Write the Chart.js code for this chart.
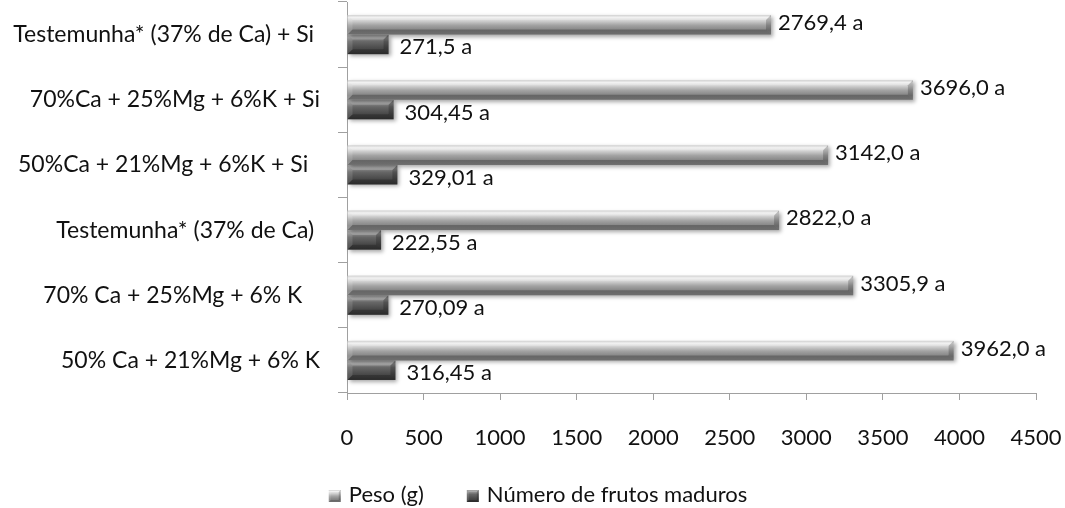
<!DOCTYPE html>
<html>
<head>
<meta charset="utf-8">
<script src="https://cdn.jsdelivr.net/npm/chart.js@4.4.1/dist/chart.umd.min.js"></script>
<style>
  html, body { margin: 0; background: #fff; }
  #wrap { width: 1065px; height: 508px; }
</style>
</head>
<body>
<div id="wrap"><canvas id="grafico"></canvas></div>
<script>
// tratamentos (de cima para baixo), com os espaços finais dos rótulos originais
const tratamentos = [
  'Testemunha* (37% de Ca) + Si ',
  '70%Ca + 25%Mg + 6%K + Si',
  '50%Ca + 21%Mg + 6%K + Si  ',
  'Testemunha* (37% de Ca) ',
  '70% Ca + 25%Mg + 6% K   ',
  '50% Ca + 21%Mg + 6% K'
];
const peso = [2769.4, 3696.0, 3142.0, 2822.0, 3305.9, 3962.0];
const frutosMaduros = [271.5, 304.45, 329.01, 222.55, 270.09, 316.45];
const letras = ['a', 'a', 'a', 'a', 'a', 'a'];
const eixoX = { min: 0, max: 4500, passo: 500 };

const FONTE = 'Lato, "Liberation Sans", sans-serif';
const COR_TEXTO = '#111';
const COR_EIXO = '#a0a0a0';

const paletas = [
  { // Peso (g)
    stops: [[0, '#c4c4c4'], [0.12, '#eeeeee'], [0.3, '#cfcfcf'], [0.52, '#a3a3a3'], [0.78, '#838383'], [1, '#8e8e8e']]
  },
  { // Número de frutos maduros
    stops: [[0, '#858585'], [0.16, '#939393'], [0.36, '#676767'], [0.7, '#4a4a4a'], [1, '#373737']]
  }
];

function formatar(v, ds) {
  const txt = ds === 0 ? v.toFixed(1) : String(v);
  return txt.replace('.', ',');
}

// barra em relevo: gradiente vertical + chanfros nas bordas
function desenhaBarra(ctx, x0, x1, y0, y1, paleta, chanfro, sombra) {
  const h = y1 - y0;
  const b = Math.min(chanfro, h / 3, (x1 - x0) / 2);
  ctx.save();
  const g = ctx.createLinearGradient(0, y0, 0, y1);
  paleta.stops.forEach(s => g.addColorStop(s[0], s[1]));
  if (sombra) {
    ctx.shadowColor = 'rgba(0,0,0,0.35)';
    ctx.shadowBlur = 4;
    ctx.shadowOffsetX = 2;
    ctx.shadowOffsetY = 2;
  }
  ctx.fillStyle = g;
  ctx.fillRect(x0, y0, x1 - x0, h);
  ctx.shadowColor = 'transparent';

  const face = (pts, cor) => {
    ctx.beginPath();
    ctx.moveTo(pts[0][0], pts[0][1]);
    for (let i = 1; i < pts.length; i++) ctx.lineTo(pts[i][0], pts[i][1]);
    ctx.closePath();
    ctx.fillStyle = cor;
    ctx.fill();
  };
  face([[x0, y0], [x1, y0], [x1 - b, y0 + b], [x0 + b, y0 + b]], 'rgba(255,255,255,0.22)');
  face([[x0, y1], [x1, y1], [x1 - b, y1 - b], [x0 + b, y1 - b]], 'rgba(0,0,0,0.22)');
  face([[x1, y0], [x1, y1], [x1 - b, y1 - b], [x1 - b, y0 + b]], 'rgba(0,0,0,0.2)');
  face([[x0, y0], [x0, y1], [x0 + b, y1 - b], [x0 + b, y0 + b]], 'rgba(255,255,255,0.12)');
  ctx.restore();
}

const barras3d = {
  id: 'barras3d',
  beforeDatasetDraw(chart, args) {
    const ctx = chart.ctx;
    const i = args.index;
    const meta = chart.getDatasetMeta(i);
    meta.data.forEach(el => {
      const top = el.y - el.height / 2;
      desenhaBarra(ctx, el.base, el.x, top, top + el.height, paletas[i], 5, true);
    });
    return false;
  },
  afterDatasetsDraw(chart) {
    const ctx = chart.ctx;
    ctx.save();
    ctx.font = '22px ' + FONTE;
    ctx.fillStyle = COR_TEXTO;
    ctx.textAlign = 'left';
    ctx.textBaseline = 'middle';
    chart.data.datasets.forEach((ds, i) => {
      chart.getDatasetMeta(i).data.forEach((el, j) => {
        const txt = formatar(ds.data[j], i) + ' ' + letras[j];
        const dx = i === 0 ? 7 : 11;
        const dy = i === 0 ? -2 : 3;
        ctx.fillText(txt, el.x + dx, el.y + dy);
      });
    });
    ctx.restore();
  },
  afterDraw(chart) {
    // legenda inferior
    const ctx = chart.ctx;
    ctx.save();
    ctx.font = '22px ' + FONTE;
    ctx.fillStyle = COR_TEXTO;
    ctx.textBaseline = 'alphabetic';
    const caixa = 12, gapTexto = 8, gapItem = 43;
    const larg = chart.data.datasets.map(ds => caixa + gapTexto + ctx.measureText(ds.label).width);
    const total = larg.reduce((a, b) => a + b, 0) + gapItem * (larg.length - 1);
    let x = 538 - total / 2;
    const yBase = 502;
    chart.data.datasets.forEach((ds, i) => {
      desenhaBarra(ctx, x, x + caixa, yBase - 12, yBase, paletas[i], 2, false);
      ctx.fillStyle = COR_TEXTO;
      ctx.fillText(ds.label, x + caixa + gapTexto, yBase);
      x += larg[i] + gapItem;
    });
    ctx.restore();
  }
};

new Chart(document.getElementById('grafico'), {
  type: 'bar',
  data: {
    labels: tratamentos,
    datasets: [
      { label: 'Peso (g)', data: peso, backgroundColor: '#aaa' },
      { label: 'Número de frutos maduros', data: frutosMaduros, backgroundColor: '#555' }
    ]
  },
  options: {
    indexAxis: 'y',
    responsive: true,
    maintainAspectRatio: false,
    animation: false,
    categoryPercentage: 0.6,
    barPercentage: 1,
    layout: { padding: { left: 0, right: 29, top: 2, bottom: 55 } },
    plugins: {
      legend: { display: false },
      tooltip: { enabled: false }
    },
    scales: {
      x: {
        min: eixoX.min,
        max: eixoX.max,
        afterFit: s => { s.height = 60; s.paddingLeft = 0; s.paddingRight = 0; },
        ticks: {
          stepSize: eixoX.passo,
          padding: 25,
          color: COR_TEXTO,
          font: { family: FONTE, size: 22 },
          maxRotation: 0,
          callback: v => String(v)
        },
        grid: { drawOnChartArea: false, tickLength: 7, color: COR_EIXO },
        border: { display: true, color: COR_EIXO }
      },
      y: {
        afterFit: s => { s.width = 347; s.paddingTop = 0; s.paddingBottom = 0; },
        ticks: {
          padding: 18,
          color: COR_TEXTO,
          font: { family: FONTE, size: 23 },
          autoSkip: false
        },
        grid: { drawOnChartArea: false, tickLength: 9, color: COR_EIXO },
        border: { display: true, color: COR_EIXO }
      }
    }
  },
  plugins: [barras3d]
});
</script>
</body>
</html>
